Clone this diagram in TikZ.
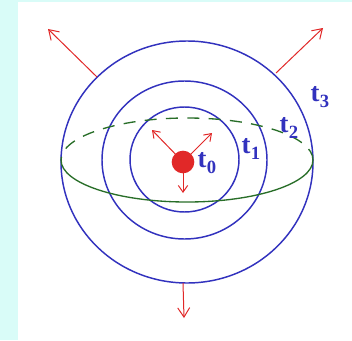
\documentclass[tikz,border=0pt]{standalone}
\usepackage{fontspec}
\setmainfont{Liberation Serif}
\usepackage{xcolor}
\usetikzlibrary{arrows.meta}

\definecolor{bgcyan}{RGB}{217,252,248}
\definecolor{shellblue}{RGB}{50,50,190}
\definecolor{eqgreen}{RGB}{40,110,40}
\definecolor{raysred}{RGB}{225,40,40}

\newcommand{\tlab}[1]{t\kern0.3pt\raisebox{-0.5ex}{\fontsize{14}{14}\selectfont #1}}

\begin{document}
\begin{tikzpicture}[x=0.75pt,y=0.75pt,
    shell/.style={draw=shellblue, line width=1.1pt},
    ray/.style={draw=raysred, line width=0.75pt, -{Straight Barb[length=7pt,width=9pt]}},
    small ray/.style={draw=raysred, line width=0.75pt, -{Straight Barb[length=5pt,width=7pt]}},
    tag/.style={text=shellblue, font=\bfseries\fontsize{20}{20}\selectfont, inner sep=0pt}]
  \fill[bgcyan] (0,0) rectangle (352,340);
  \fill[white] (18,0) rectangle (352,338);
  \useasboundingbox (0,0) rectangle (352,340);

  % shells
  \draw[shell] (187,178) ellipse [x radius=126, y radius=121];
  \draw[shell] (184.5,180) ellipse [x radius=82.5, y radius=79];
  \draw[shell] (184.5,180.5) ellipse [x radius=54.5, y radius=52.5];

  % equator
  \draw[eqgreen, line width=1pt, dash pattern=on 9pt off 7pt]
    (313,180) arc [start angle=0, end angle=180, x radius=126, y radius=42];
  \draw[eqgreen, line width=1pt]
    (61,180) arc [start angle=180, end angle=360, x radius=126, y radius=42];

  % source
  \node[circle, fill=raysred, minimum size=17pt, inner sep=0pt] (src) at (183,178) {};

  \coordinate (ul) at (152,210);
  \coordinate (ur) at (212,207);
  \coordinate (dn) at (183,147);
  \draw[small ray] (src.center) -- (ul);
  \draw[small ray] (src.center) -- (ur);
  \draw[small ray] (src.center) -- (dn);

  \coordinate (outUL) at (97,263);
  \coordinate (outUR) at (276,267);
  \coordinate (outDN) at (183,57);
  \coordinate (tipUL) at (48,311);
  \coordinate (tipUR) at (323,312);
  \coordinate (tipDN) at (184,22);
  \draw[ray] (outUL) -- (tipUL);
  \draw[ray] (outUR) -- (tipUR);
  \draw[ray] (outDN) -- (tipDN);

  % labels
  \node[tag] (t0) at (207,177) {\tlab{0}};
  \node[tag] (t1) at (251,191) {\tlab{1}};
  \node[tag] (t2) at (289,212) {\tlab{2}};
  \node[tag] (t3) at (320,243) {\tlab{3}};
\end{tikzpicture}
\end{document}
